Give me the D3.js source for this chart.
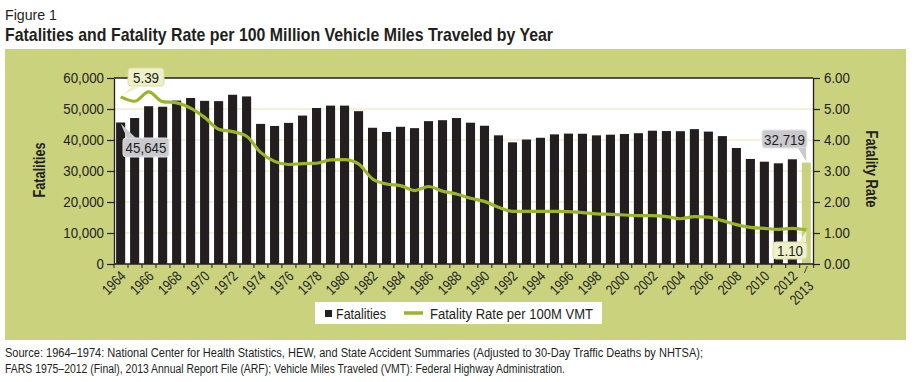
<!DOCTYPE html>
<html>
<head>
<meta charset="utf-8">
<script src="https://cdn.jsdelivr.net/npm/d3@7"></script>
<style>
body { margin: 0; background: #fff; }
text { font-family: "Liberation Sans", Arial, Helvetica, sans-serif; fill: #231f20; }
</style>
</head>
<body>
<div id="chart"></div>
<script>
// data
const years = d3.range(1964, 2014);
const fatalities = [45645, 47089, 50894, 50724, 52725, 53543, 52627, 52542, 54589, 54052,
    45196, 44525, 45523, 47878, 50331, 51093, 51091, 49301, 43945, 42589,
    44257, 43825, 46087, 46390, 47087, 45582, 44599, 41508, 39250, 40150,
    40716, 41817, 42065, 42013, 41501, 41717, 41945, 42196, 43005, 42884,
    42836, 43510, 42708, 41259, 37423, 33883, 32999, 32479, 33782, 32719];
const rates = [5.39, 5.25, 5.55, 5.24, 5.20, 5.03, 4.73, 4.35, 4.27, 4.12,
    3.60, 3.31, 3.21, 3.24, 3.25, 3.36, 3.37, 3.23, 2.74, 2.58,
    2.53, 2.37, 2.50, 2.35, 2.26, 2.12, 2.02, 1.83, 1.70, 1.70,
    1.70, 1.70, 1.69, 1.66, 1.62, 1.60, 1.58, 1.56, 1.56, 1.53,
    1.46, 1.53, 1.51, 1.40, 1.27, 1.18, 1.15, 1.12, 1.15, 1.10];
const leftTicks = [0, 10000, 20000, 30000, 40000, 50000, 60000];
const rightTicks = [0, 1, 2, 3, 4, 5, 6];
const xLabels = [1964, 1966, 1968, 1970, 1972, 1974, 1976, 1978, 1980, 1982, 1984, 1986, 1988,
    1990, 1992, 1994, 1996, 1998, 2000, 2002, 2004, 2006, 2008, 2010, 2012];
const lastLabel = 2013;

const width = 914;
const height = 382;
const plot = { left: 114, right: 813, top: 78, bottom: 264 };
const green = '#cad27e';
const lineGreen = '#9bb52a';
const ink = '#231f20';
const FONT = '"Liberation Sans", Arial, Helvetica, sans-serif';

// squeeze text horizontally so it reads like a condensed face
function condense(sel, k) {
    sel.each(function() {
        const len = this.getComputedTextLength();
        d3.select(this).attr('textLength', len * k).attr('lengthAdjust', 'spacingAndGlyphs');
    });
}
function fit(sel, w) {
    sel.attr('textLength', w).attr('lengthAdjust', 'spacingAndGlyphs');
}

const svg = d3.select('#chart')
    .append('svg')
    .attr('width', width)
    .attr('height', height);

// titles
const fig = svg.append('text').attr('x', 5).attr('y', 20).attr('font-size', 15).text('Figure 1');
fit(fig, 52);
const title = svg.append('text').attr('x', 5).attr('y', 41).attr('font-size', 19).attr('font-weight', 'bold')
    .text('Fatalities and Fatality Rate per 100 Million Vehicle Miles Traveled by Year');
fit(title, 548);

// green panel + white plot area
svg.append('rect').attr('x', 5).attr('y', 49).attr('width', 901).attr('height', 291).attr('fill', green);
svg.append('rect').attr('x', plot.left).attr('y', plot.top)
    .attr('width', plot.right - plot.left).attr('height', plot.bottom - plot.top).attr('fill', '#fff');

const x = d3.scaleBand()
    .domain(years)
    .range([plot.left, plot.right])
    .paddingInner(0.35)
    .paddingOuter(0.15);
const xc = d => x(d) + x.bandwidth() / 2;

const y = d3.scaleLinear().domain([0, 60000]).range([plot.bottom, plot.top]);
const yR = d3.scaleLinear().domain([0, 6]).range([plot.bottom, plot.top]);

// gridlines
svg.append('g')
    .selectAll('line')
    .data(leftTicks.slice(1, -1))
    .enter()
    .append('line')
    .attr('x1', plot.left).attr('x2', plot.right)
    .attr('y1', d => y(d)).attr('y2', d => y(d))
    .attr('stroke', '#e3e6b5')
    .attr('stroke-width', 1.2);

// bars
svg.append('g')
    .selectAll('rect')
    .data(years)
    .enter()
    .append('rect')
    .attr('x', d => x(d))
    .attr('y', (d, i) => y(fatalities[i]))
    .attr('width', x.bandwidth())
    .attr('height', (d, i) => plot.bottom - y(fatalities[i]))
    .attr('fill', d => d === 2013 ? green : ink);

// rate line
const ratePath = d3.line()
    .x((d, i) => xc(years[i]))
    .y(d => yR(d))
    .curve(d3.curveMonotoneX);
svg.append('path')
    .attr('d', ratePath(rates))
    .attr('fill', 'none')
    .attr('stroke', lineGreen)
    .attr('stroke-width', 3.2)
    .attr('stroke-linejoin', 'round');

// axes
const yAxis = d3.axisLeft(y).tickValues(leftTicks).tickFormat(d3.format(',')).tickSize(7).tickSizeOuter(0).tickPadding(3);
const gL = svg.append('g').attr('transform', 'translate(' + plot.left + ',0)').call(yAxis);
const yAxisR = d3.axisRight(yR).tickValues(rightTicks).tickFormat(d3.format('.2f')).tickSize(7).tickSizeOuter(0).tickPadding(4);
const gR = svg.append('g').attr('transform', 'translate(' + plot.right + ',0)').call(yAxisR);
[gL, gR].forEach(g => {
    g.attr('font-family', null).attr('font-size', null);
    g.select('.domain').attr('stroke', ink).attr('stroke-width', 1.3);
    g.selectAll('.tick line').attr('stroke', ink).attr('stroke-width', 1.2);
    g.selectAll('.tick text').attr('font-size', 15.5).attr('fill', ink).style('font-family', FONT);
    condense(g.selectAll('.tick text'), 0.86);
});

// top border and baseline
svg.append('line').attr('x1', plot.left).attr('x2', plot.right).attr('y1', plot.top).attr('y2', plot.top)
    .attr('stroke', ink).attr('stroke-width', 1.3);
svg.append('line').attr('x1', plot.left).attr('x2', plot.right).attr('y1', plot.bottom).attr('y2', plot.bottom)
    .attr('stroke', ink).attr('stroke-width', 1.3);

// x ticks at band edges
const step = x.step();
svg.append('g')
    .selectAll('line')
    .data(d3.range(years.length + 1))
    .enter()
    .append('line')
    .attr('x1', i => plot.left + i * step).attr('x2', i => plot.left + i * step)
    .attr('y1', plot.bottom).attr('y2', plot.bottom + 4)
    .attr('stroke', ink).attr('stroke-width', 1);

// x labels
const xl = svg.append('g')
    .selectAll('text')
    .data(xLabels)
    .enter()
    .append('text')
    .attr('transform', d => 'translate(' + (xc(d) + 6) + ',' + (plot.bottom + 13) + ') rotate(-45)')
    .attr('text-anchor', 'end')
    .attr('font-size', 14.5)
    .text(d => d);
condense(xl, 0.82);
svg.append('line')
    .attr('x1', xc(lastLabel) + 1).attr('y1', plot.bottom + 2)
    .attr('x2', xc(lastLabel) - 2).attr('y2', plot.bottom + 9)
    .attr('stroke', ink).attr('stroke-width', 0.8);
const xlLast = svg.append('text')
    .attr('transform', 'translate(' + (xc(lastLabel) + 8) + ',' + (plot.bottom + 23) + ') rotate(-45)')
    .attr('text-anchor', 'end')
    .attr('font-size', 14.5)
    .text(lastLabel);
condense(xlLast, 0.82);

// axis titles
const tL = svg.append('text').attr('transform', 'translate(45,170) rotate(-90)')
    .attr('text-anchor', 'middle').attr('font-size', 16).attr('font-weight', 'bold').text('Fatalities');
fit(tL, 55);
const tR = svg.append('text').attr('transform', 'translate(866,169) rotate(90)')
    .attr('text-anchor', 'middle').attr('font-size', 16).attr('font-weight', 'bold').text('Fatality Rate');
fit(tR, 77);

// callouts
const last = years.length - 1;
const callouts = [
    { px: xc(years[0]), py: yR(rates[0]), bx: 128, by: 68, w: 36, h: 18, tip: [[133, 86], [141, 86]],
        text: d3.format('.2f')(rates[0]), fill: '#eef0c9', stroke: '#d9dd9f' },
    { px: xc(years[0]), py: y(fatalities[0]), bx: 123, by: 138, w: 46, h: 19, tip: [[127, 138], [136, 138]],
        text: d3.format(',')(fatalities[0]), fill: '#c9c9ce', stroke: '#e4e4e8' },
    { px: xc(years[last]), py: y(fatalities[last]), bx: 762, by: 130, w: 45, h: 18, tip: [[798, 148], [806, 148]],
        text: d3.format(',')(fatalities[last]), fill: '#c9c9ce', stroke: '#e4e4e8' },
    { px: xc(years[last]), py: yR(rates[last]), bx: 773, by: 242, w: 34, h: 17, tip: [[799, 242], [806, 242]],
        text: d3.format('.2f')(rates[last]), fill: '#eef0c9', stroke: '#d9dd9f' }
];
const cg = svg.append('g').selectAll('g').data(callouts).enter().append('g');
cg.append('rect')
    .attr('x', d => d.bx).attr('y', d => d.by).attr('width', d => d.w).attr('height', d => d.h)
    .attr('rx', 3)
    .attr('fill', d => d.fill).attr('stroke', d => d.stroke).attr('stroke-width', 1);
cg.append('path')
    .attr('d', d => 'M' + d.tip[0][0] + ',' + d.tip[0][1] + 'L' + d.px + ',' + (d.py + (d.py > d.by ? -1 : 1)) + 'L' + d.tip[1][0] + ',' + d.tip[1][1] + 'Z')
    .attr('fill', d => d.fill);
const ct = cg.append('text')
    .attr('x', d => d.bx + d.w / 2).attr('y', d => d.by + d.h / 2 + 5.5)
    .attr('text-anchor', 'middle').attr('font-size', 15.5)
    .text(d => d.text);
condense(ct, 0.86);

// legend
const lg = svg.append('g');
lg.append('rect').attr('x', 315).attr('y', 302).attr('width', 287).attr('height', 22).attr('fill', '#fff');
lg.append('rect').attr('x', 325).attr('y', 310).attr('width', 7).attr('height', 7).attr('fill', ink);
fit(lg.append('text').attr('x', 336).attr('y', 319).attr('font-size', 15.5).text('Fatalities'), 50);
lg.append('line').attr('x1', 404).attr('x2', 423).attr('y1', 313).attr('y2', 313)
    .attr('stroke', lineGreen).attr('stroke-width', 3.5);
fit(lg.append('text').attr('x', 430).attr('y', 319).attr('font-size', 15.5).text('Fatality Rate per 100M VMT'), 163);

// source note
fit(svg.append('text').attr('x', 5).attr('y', 357).attr('font-size', 12.5)
    .text('Source: 1964–1974: National Center for Health Statistics, HEW, and State Accident Summaries (Adjusted to 30-Day Traffic Deaths by NHTSA);'), 698);
fit(svg.append('text').attr('x', 5).attr('y', 373).attr('font-size', 12.5)
    .text('FARS 1975–2012 (Final), 2013 Annual Report File (ARF); Vehicle Miles Traveled (VMT): Federal Highway Administration.'), 560);
</script>
</body>
</html>
